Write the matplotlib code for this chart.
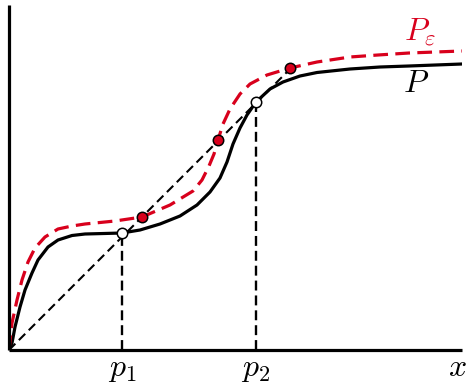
import matplotlib.pyplot as plt

plt.rcParams['mathtext.fontset'] = 'cm'

# curve samples (pixel-like units, origin at the axes corner)
p_x = [0, 3, 6, 11, 16, 23, 29, 39, 49, 63, 76, 95, 113, 131, 151, 171, 188, 201,
       211, 218, 224, 231, 238, 247, 261, 274, 291, 308, 341, 371, 400, 453]
p_y = [0, 7, 23, 43, 60, 77, 90, 103, 110, 114.5, 116, 116.5, 117, 120, 126, 134, 145, 158,
       172, 188, 206, 222, 235, 248, 261, 268, 274, 277.5, 281, 283, 284, 286]

pe_x = [0, 3, 8, 13, 19, 26, 36, 49, 63, 76, 106, 133, 161, 184, 193, 200, 205, 209,
        214, 221, 231, 241, 258, 281, 308, 341, 369, 400, 453]
pe_y = [0, 27, 50, 70, 88, 102, 113, 121, 124, 126, 129, 133, 145, 159, 170, 184, 196, 210,
        226, 241, 256, 266, 275, 282, 288, 293, 295, 297, 299]

# fixed points
p_fixed_x = [113, 247]
p_fixed_y = [117, 248]
pe_fixed_x = [133, 209, 281]
pe_fixed_y = [133, 210, 282]
diag_end = 282

red = '#d8001c'

fig = plt.figure(figsize=(4.73, 3.83), dpi=100)
ax = fig.add_axes([9 / 473, 33 / 383, 453 / 473, 345 / 383])
ax.set_xlim(0, 453)
ax.set_ylim(0, 345)

ax.plot([0, diag_end], [0, diag_end], color='black', lw=1.5, dashes=(4.3, 2.4))
for xf, yf in zip(p_fixed_x, p_fixed_y):
    ax.plot([xf, xf], [0, yf], color='black', lw=1.7, dashes=(4.2, 2.1))

ax.plot(p_x, p_y, color='black', lw=2.3, solid_joinstyle='round', solid_capstyle='round')
ax.plot(pe_x, pe_y, color=red, lw=2.3, dashes=(4.6, 2.3), dash_joinstyle='round')

ax.plot(pe_fixed_x, pe_fixed_y, 'o', ms=7.5, mfc=red, mec='black', mew=1.1)
ax.plot(p_fixed_x, p_fixed_y, 'o', ms=7.5, mfc='white', mec='black', mew=1.1)

ax.text(411, 318, r'$P_\varepsilon$', color=red, fontsize=23, ha='center', va='center')
ax.text(407, 266, r'$P$', color='black', fontsize=23, ha='center', va='center')

ax.set_xticks([])
ax.set_yticks([])
ax.text(p_fixed_x[0], -18, r'$p_1$', fontsize=23, ha='center', va='center')
ax.text(p_fixed_x[1], -18, r'$p_2$', fontsize=23, ha='center', va='center')
ax.text(458, -17, r'$x$', fontsize=23, ha='right', va='center')

for side in ['top', 'right']:
    ax.spines[side].set_visible(False)
for side in ['left', 'bottom']:
    ax.spines[side].set_linewidth(2.3)
    ax.spines[side].set_capstyle('butt')

fig.savefig('out.png', dpi=100)
